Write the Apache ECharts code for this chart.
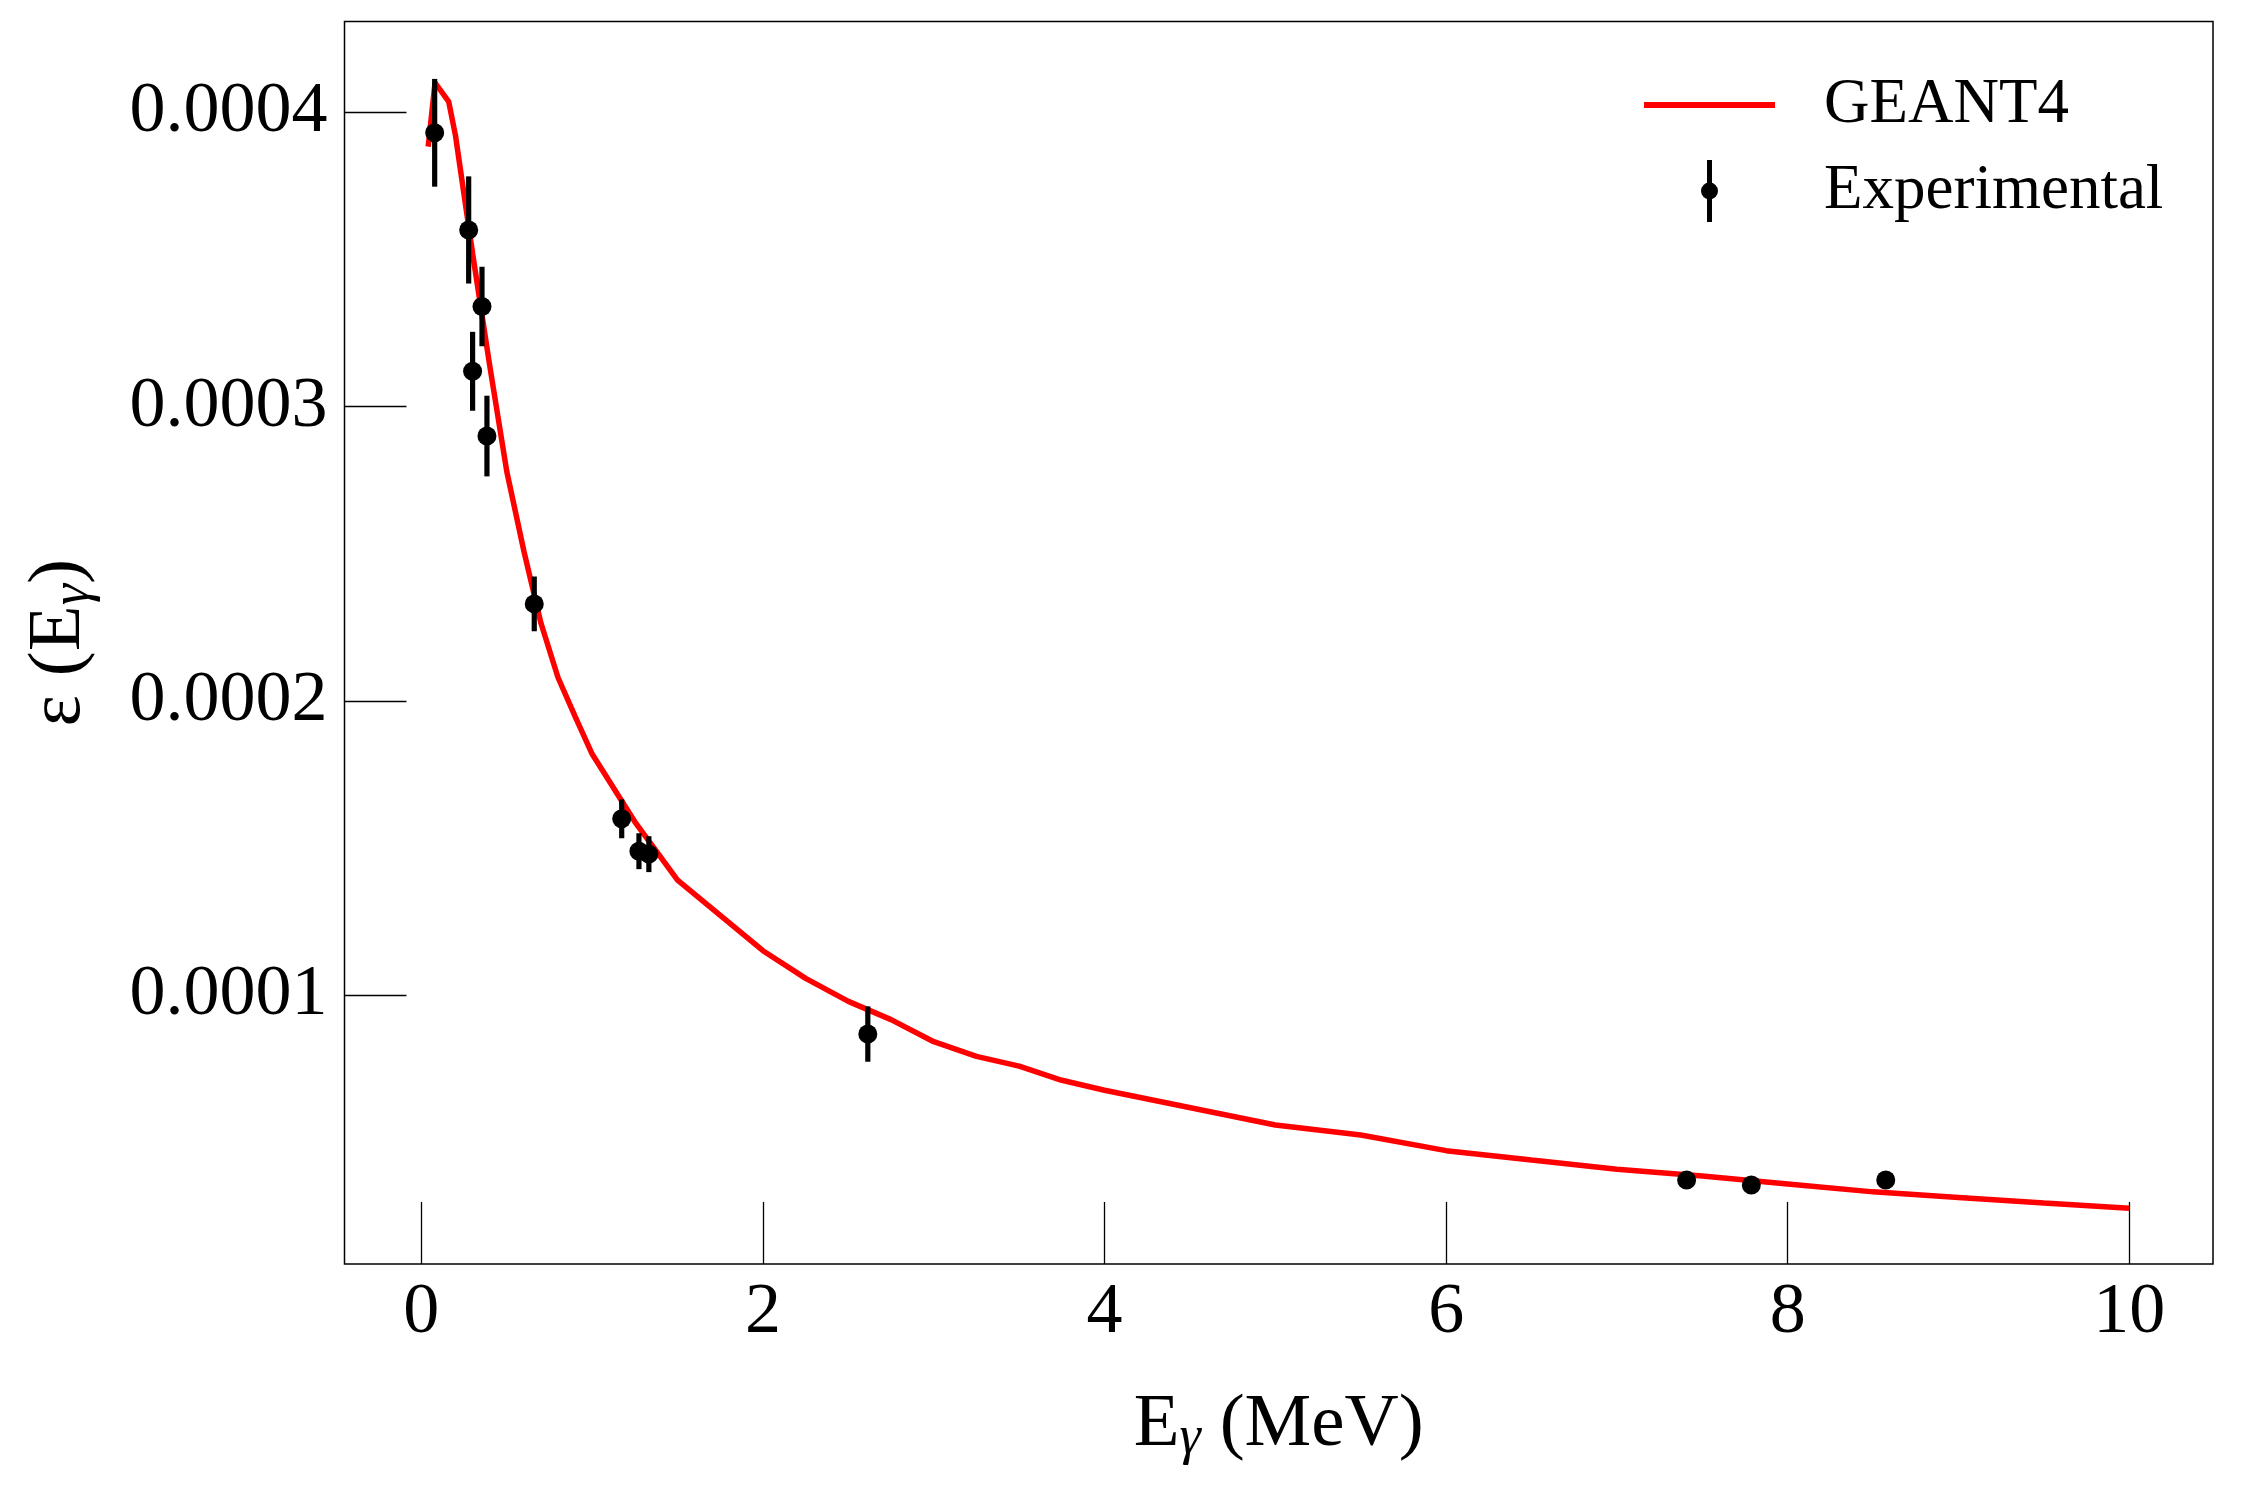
<!DOCTYPE html>
<html><head><meta charset="utf-8">
<script src="https://cdn.jsdelivr.net/npm/echarts@6/dist/echarts.min.js"></script>
<style>html,body{margin:0;padding:0;background:#fff}#c{width:2250px;height:1500px}</style>
</head><body><div id="c"></div>
<script>
// GEANT4 simulated efficiency curve
const geantE = [0.04, 0.08, 0.16, 0.2, 0.3, 0.4, 0.5, 0.6, 0.7, 0.8, 0.9, 1.0, 1.25, 1.5, 2.0, 2.25, 2.5, 2.75, 3.0, 3.25, 3.5, 3.75, 4.0, 5.0, 5.5, 6.0, 6.5, 7.0, 7.5, 8.0, 8.5, 9.0, 9.5, 10.0];
const geantEff = [0.0003883, 0.0004100, 0.0004036, 0.0003920, 0.0003520, 0.0003140, 0.0002780, 0.0002510, 0.0002265, 0.0002080, 0.0001948, 0.0001820, 0.0001590, 0.0001392, 0.0001152, 0.0001058, 0.0000980, 0.0000918, 0.0000843, 0.0000793, 0.0000760, 0.0000712, 0.0000678, 0.0000560, 0.0000526, 0.0000473, 0.0000441, 0.0000410, 0.0000387, 0.0000360, 0.0000333, 0.0000314, 0.0000295, 0.0000277];
// Experimental points
const expE = [0.078, 0.277, 0.300, 0.355, 0.384, 0.661, 1.173, 1.274, 1.332, 2.614, 7.408, 7.787, 8.574];
const expEff = [0.000393, 0.000360, 0.000312, 0.000334, 0.000290, 0.000233, 0.000160, 0.000149, 0.000148, 0.0000869, 0.0000373, 0.0000356, 0.0000373];
const expErr = [0.0000183, 0.0000182, 0.0000134, 0.0000135, 0.0000137, 0.0000093, 0.0000066, 0.0000061, 0.0000061, 0.0000094, 0, 0, 0];
// Tick labels
const xTicks = [0, 2, 4, 6, 8, 10];
const yTicks = [0.0001, 0.0002, 0.0003, 0.0004];

const FONT = "'Liberation Serif', 'Times New Roman', serif";
const chart = echarts.init(document.getElementById('c'), null, {renderer: 'canvas'});

const lineData = geantE.map((e, i) => [e, geantEff[i]]);
const expData = expE.map((e, i) => [e, expEff[i], expErr[i]]);

const nameRich = {
  m: {fontFamily: FONT, fontSize: 75, color: '#000', lineHeight: 82},
  s: {fontFamily: FONT, fontSize: 54, fontStyle: 'italic', color: '#000', lineHeight: 50, verticalAlign: 'bottom'}
};

chart.setOption({
  animation: false,
  backgroundColor: '#fff',
  grid: {left: 344.5, right: 37, top: 21.5, bottom: 236, show: true, borderColor: '#000', borderWidth: 1.5, backgroundColor: 'transparent'},
  legend: [
    {left: 1644, top: 70, padding: 0, orient: 'vertical', itemWidth: 131, itemHeight: 6,
     data: [{name: 'GEANT4', icon: 'rect'}],
     textStyle: {fontFamily: FONT, fontSize: 63, color: '#000', lineHeight: 70, padding: [0, 0, 0, 44]}},
    {left: 1701, top: 156, padding: 0, orient: 'vertical', itemWidth: 17, itemHeight: 62,
     data: [{name: 'Experimental', icon: 'path://M6,0 L11,0 L11,62 L6,62 Z M0,31 A8.5,8.5 0 1 1 17,31 A8.5,8.5 0 1 1 0,31 Z'}],
     textStyle: {fontFamily: FONT, fontSize: 63, color: '#000', lineHeight: 70, padding: [0, 0, 0, 101]}}
  ],
  xAxis: {
    type: 'value', min: -0.45, max: 10.49,
    name: '{m|E}{s|γ}{m| (MeV)}', nameLocation: 'middle', nameGap: 120,
    nameTextStyle: {rich: nameRich},
    axisLine: {show: false, onZero: false},
    splitLine: {show: false},
    axisTick: {show: true, inside: true, length: 62, customValues: xTicks, lineStyle: {color: '#000', width: 1.3}},
    axisLabel: {customValues: xTicks, fontFamily: FONT, fontSize: 72, color: '#000', margin: 13, lineHeight: 72, formatter: v => String(v)}
  },
  yAxis: {
    type: 'value', min: 0.0000088, max: 0.0004308,
    name: '{m|ε (E}{s|γ}{m|)}', nameLocation: 'middle', nameRotate: 90, nameGap: 244,
    nameTextStyle: {rich: nameRich},
    axisLine: {show: false, onZero: false},
    splitLine: {show: false},
    axisTick: {show: true, inside: true, length: 62, customValues: yTicks, lineStyle: {color: '#000', width: 1.3}},
    axisLabel: {customValues: yTicks, fontFamily: FONT, fontSize: 72, color: '#000', margin: 17, formatter: v => v.toFixed(4)}
  },
  series: [
    {name: 'GEANT4', type: 'line', data: lineData, showSymbol: false, symbol: 'none', color: '#ff0000',
     lineStyle: {color: '#ff0000', width: 5.5}, z: 2},
    {name: 'Experimental', type: 'custom', data: expData, encode: {x: 0, y: 1}, z: 3,
     itemStyle: {color: '#000'},
     renderItem: function (params, api) {
       const x = api.value(0), y = api.value(1), e = api.value(2);
       const c = api.coord([x, y]);
       const children = [];
       if (e > 0) {
         const hi = api.coord([x, y + e]);
         const lo = api.coord([x, y - e]);
         children.push({type: 'rect', shape: {x: c[0] - 2.6, y: hi[1], width: 5.2, height: lo[1] - hi[1]}, style: {fill: '#000'}});
       }
       children.push({type: 'circle', shape: {cx: c[0], cy: c[1], r: 9.5}, style: {fill: '#000'}});
       return {type: 'group', children: children};
     }}
  ]
});
</script>
</body></html>
